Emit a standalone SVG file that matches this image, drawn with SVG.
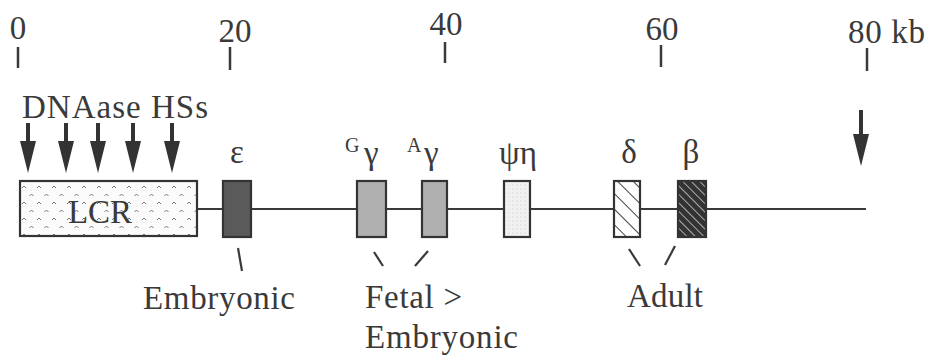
<svg xmlns="http://www.w3.org/2000/svg" width="931" height="356" viewBox="0 0 931 356">
<style>
  text { fill: #3a3a3a; font-size: 33px; }
  .tick { stroke: #3a3a3a; stroke-width: 2.5; }
  .gene { stroke: #333; stroke-width: 2.2; }
  .conn { stroke: #3a3a3a; stroke-width: 2.2; fill: none; }
  .arrow { fill: #333; }
  .mid { text-anchor: middle; }
</style>
<defs>
  <pattern id="lcrPat" width="15" height="16" patternUnits="userSpaceOnUse" x="20" y="181">
    <rect width="15" height="16" fill="#fbfbfb"/>
    <path d="M2 7 L4 5 L6 7" stroke="#777" stroke-width="1" fill="none"/>
    <path d="M9.5 15 L11.5 13 L13.5 15" stroke="#777" stroke-width="1" fill="none"/>
  </pattern>
  <pattern id="deltaPat" width="11" height="11" patternUnits="userSpaceOnUse" patternTransform="rotate(-45)">
    <rect width="11" height="11" fill="#fff"/>
    <line x1="0" y1="0" x2="0" y2="11" stroke="#444" stroke-width="2"/>
  </pattern>
  <pattern id="betaPat" width="6" height="6" patternUnits="userSpaceOnUse" patternTransform="rotate(-45)">
    <rect width="6" height="6" fill="#333"/>
    <line x1="0" y1="0" x2="0" y2="6" stroke="#e0e0e0" stroke-width="1.4"/>
  </pattern>
  <pattern id="psiPat" width="4" height="4" patternUnits="userSpaceOnUse">
    <rect width="4" height="4" fill="#f1f1f1"/>
    <circle cx="1" cy="1" r="0.5" fill="#bbb"/>
  </pattern>
</defs>

<g font-family="Liberation Serif">
<g id="scale">
  <line class="tick" x1="18" y1="47" x2="18" y2="68"/>
  <line class="tick" x1="230" y1="47" x2="230" y2="70"/>
  <line class="tick" x1="445" y1="42" x2="445" y2="63"/>
  <line class="tick" x1="661" y1="45" x2="661" y2="67"/>
  <line class="tick" x1="867" y1="48" x2="867" y2="71"/>
  <text class="mid" x="18" y="39">0</text>
  <text class="mid" x="235" y="42">20</text>
  <text class="mid" x="446" y="35">40</text>
  <text class="mid" x="662" y="40">60</text>
  <text x="848" y="43" textLength="77" lengthAdjust="spacing">80 kb</text>
</g>

<g id="hss">
  <text x="22" y="118" textLength="186" lengthAdjust="spacing">DNAase HSs</text>
  <g class="arrow">
    <rect x="26" y="123" width="4" height="20"/><path d="M20 141 L36 141 L28 173 Z"/>
    <rect x="64" y="123" width="4" height="20"/><path d="M58 141 L74 141 L66 173 Z"/>
    <rect x="96" y="123" width="4" height="20"/><path d="M90 141 L106 141 L98 173 Z"/>
    <rect x="131" y="123" width="4" height="20"/><path d="M125 141 L141 141 L133 173 Z"/>
    <rect x="170" y="123" width="4" height="20"/><path d="M164 141 L180 141 L172 173 Z"/>
    <rect x="859" y="110" width="4" height="26"/><path d="M853 134 L869 134 L861 166 Z"/>
  </g>
</g>

<g id="connectors">
  <line class="conn" x1="197" y1="209" x2="866" y2="209"/>
  <line class="conn" x1="238" y1="248" x2="242" y2="271"/>
  <line class="conn" x1="374" y1="252" x2="383" y2="266"/>
  <line class="conn" x1="428" y1="251" x2="415" y2="266"/>
  <line class="conn" x1="629" y1="249" x2="640" y2="266"/>
  <line class="conn" x1="675" y1="246" x2="665" y2="265"/>
</g>

<g id="lcr">
  <rect class="gene" x="20" y="181" width="177" height="55" fill="url(#lcrPat)"/>
  <text class="mid" x="100" y="223">LCR</text>
</g>

<g id="epsilon">
  <rect class="gene" x="223" y="181" width="28" height="56" fill="#5a5a5a"/>
  <text class="mid" x="237" y="163">ε</text>
</g>

<g id="Ggamma">
  <rect class="gene" x="357" y="181" width="29" height="56" fill="#b0b0b0"/>
  <text x="345" y="152" style="font-size:20px">G</text>
  <text x="364" y="164">γ</text>
</g>

<g id="Agamma">
  <rect class="gene" x="422" y="181" width="25" height="56" fill="#b0b0b0"/>
  <text x="407" y="152" style="font-size:20px">A</text>
  <text x="424" y="164">γ</text>
</g>

<g id="psieta">
  <rect class="gene" x="504" y="181" width="26" height="56" fill="url(#psiPat)"/>
  <text class="mid" x="518" y="164">ψη</text>
</g>

<g id="delta">
  <rect class="gene" x="614" y="181" width="26" height="56" fill="url(#deltaPat)"/>
  <text class="mid" x="629" y="163">δ</text>
</g>

<g id="beta">
  <rect class="gene" x="678" y="181" width="28" height="56" fill="url(#betaPat)"/>
  <text class="mid" x="691" y="163">β</text>
</g>

<g id="labels">
  <text x="143" y="309" textLength="152" lengthAdjust="spacing">Embryonic</text>
  <text x="365" y="308" textLength="97" lengthAdjust="spacing">Fetal &gt;</text>
  <text x="365" y="348" textLength="153" lengthAdjust="spacing">Embryonic</text>
  <text x="627" y="307" textLength="76" lengthAdjust="spacing">Adult</text>
</g>
</g>
</svg>
